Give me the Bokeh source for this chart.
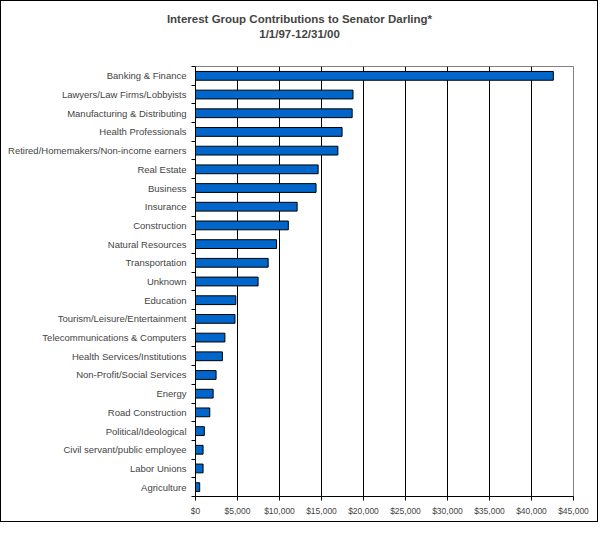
from bokeh.plotting import figure
from bokeh.models import FixedTicker, NumeralTickFormatter, Range1d, Title
from bokeh.embed import file_html
from bokeh.resources import INLINE

# interest groups, top to bottom as in the chart
groups = ["Banking & Finance", "Lawyers/Law Firms/Lobbyists", "Manufacturing & Distributing",
          "Health Professionals", "Retired/Homemakers/Non-income earners", "Real Estate",
          "Business", "Insurance", "Construction", "Natural Resources", "Transportation",
          "Unknown", "Education", "Tourism/Leisure/Entertainment",
          "Telecommunications & Computers", "Health Services/Institutions",
          "Non-Profit/Social Services", "Energy", "Road Construction",
          "Political/Ideological", "Civil servant/public employee", "Labor Unions",
          "Agriculture"]
amounts = [42600, 18750, 18650, 17450, 16950, 14600, 14350, 12100, 11050, 9650, 8650,
           7450, 4800, 4700, 3500, 3200, 2450, 2100, 1700, 1050, 900, 900, 500]
x_ticks = [0, 5000, 10000, 15000, 20000, 25000, 30000, 35000, 40000, 45000]
title_lines = ["Interest Group Contributions to Senator Darling*", "1/1/97-12/31/00"]

n = len(groups)
# bottom category sits at 0.5, top at n-0.5
ypos = [n - 0.5 - i for i in range(n)]

p = figure(width=598, height=522, output_backend="svg", toolbar_location=None,
           x_range=Range1d(0, 45000), y_range=Range1d(0, n),
           min_border_left=194, min_border_right=26, min_border_top=65, min_border_bottom=27,
           styles={"border": "1px solid black"})

p.hbar(y=ypos, right=amounts, left=0, height=0.47, fill_color="#0066CC",
       line_color="black", line_width=1)

# axes
font = "Liberation Sans"
p.xaxis.ticker = FixedTicker(ticks=x_ticks)
p.xaxis.formatter = NumeralTickFormatter(format="$0,0")
p.xaxis.major_label_text_font = font
p.xaxis.major_label_text_font_size = "8.5px"
p.xaxis.major_tick_out = 4
p.xaxis.major_tick_in = 0
p.xaxis.major_label_standoff = 5
p.xaxis.axis_line_color = "black"

p.yaxis.ticker = FixedTicker(ticks=ypos, minor_ticks=list(range(n + 1)))
p.yaxis.major_label_overrides = {y: g for y, g in zip(ypos, groups)}
p.yaxis.major_label_text_font = font
p.yaxis.major_label_text_font_size = "9.5px"
p.yaxis.major_tick_out = 0
p.yaxis.major_tick_in = 0
p.yaxis.minor_tick_out = 4
p.yaxis.minor_tick_in = 0
p.yaxis.major_label_standoff = 5
p.yaxis.axis_line_color = "black"

p.xgrid.ticker = FixedTicker(ticks=x_ticks[1:-1])
p.xgrid.grid_line_color = "black"
p.ygrid.grid_line_color = None
p.outline_line_color = "#808080"

# two line title, centred on the whole chart rather than on the frame
title_size = 11.5
char_em = [23.06, 7.0]  # rough bold widths in em, used to centre left-aligned titles
centre = 298 - 194
p.add_layout(Title(text=" ", text_font_size="8px", standoff=15), "above")
for t, em in zip(reversed(title_lines), reversed(char_em)):
    p.add_layout(Title(text=t, align="left", offset=centre - em * title_size / 2,
                       vertical_align="bottom", standoff=1, text_font=font,
                       text_font_style="bold", text_font_size=f"{title_size}px"), "above")

open("out.html", "w").write(file_html(p, INLINE))
